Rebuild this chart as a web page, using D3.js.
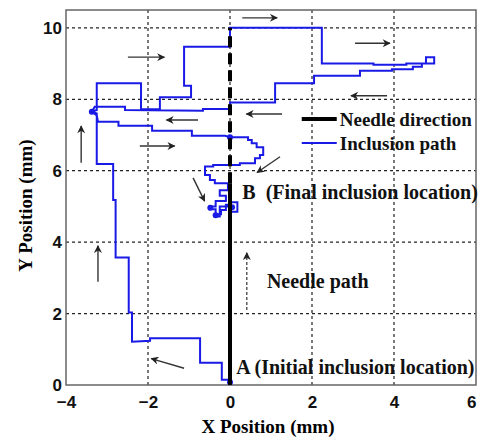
<!DOCTYPE html>
<html>
<head>
<meta charset="utf-8">
<script src="https://cdn.jsdelivr.net/npm/d3@7"></script>
<style>
  body { margin: 0; background: #fff; }
  svg { display: block; font-family: "Liberation Serif", "DejaVu Serif", serif; font-weight: bold; }
  .tick text { font-size: 17px; fill: #111; }
</style>
</head>
<body>
<svg width="479" height="437"></svg>
<script>
// ---- data ----
const xTicks = [-4, -2, 0, 2, 4, 6];
const yTicks = [0, 2, 4, 6, 8, 10];

// needle: solid part then dashed part (x, y pairs)
const needleSolid = [[0, 0], [0, 5.65]];
const needleDashed = [[0, 5.65], [0, 10]];

// inclusion path from A to B
const inclusionPath = [
  [0, 0.08], [0, 0.15], [-0.2, 0.15], [-0.2, 0.62], [-0.73, 0.62], [-0.73, 1.31],
  [-1.95, 1.31], [-1.95, 1.24], [-2.39, 1.21], [-2.39, 2.03], [-2.47, 2.03],
  [-2.47, 3.57], [-2.79, 3.57], [-2.79, 5.18], [-2.85, 5.18], [-2.85, 6.19],
  [-3.25, 6.19], [-3.25, 7.6], [-3.37, 7.65],
  [-3.25, 7.7], [-3.25, 8.45], [-2.17, 8.45], [-2.17, 7.72], [-1.71, 7.72],
  [-1.71, 8.06], [-0.95, 8.06], [-0.95, 8.38], [-1.12, 8.38], [-1.12, 9.47],
  [0, 9.47], [0, 10], [2.24, 10], [2.24, 9.0], [3.5, 9.0], [3.5, 8.97],
  [4.3, 8.97], [4.3, 9.0], [4.78, 9.0], [4.78, 9.18], [4.98, 9.18], [4.98, 9.0],
  [4.68, 9.0], [4.68, 8.91], [4.46, 8.91], [4.46, 8.84], [3.95, 8.84], [3.95, 8.8],
  [3.17, 8.8], [3.17, 8.66], [2.05, 8.66], [2.05, 8.45], [1.1, 8.45], [1.1, 7.91],
  [0, 7.91], [0, 7.73], [-0.66, 7.73], [-0.66, 7.68], [-2.56, 7.7], [-2.56, 7.79],
  [-3.3, 7.79], [-3.37, 7.65],
  [-3.25, 7.55], [-3.22, 7.37], [-2.72, 7.37], [-2.72, 7.26], [-1.9, 7.26],
  [-1.9, 7.12], [-0.93, 7.12], [-0.93, 6.98], [-0.12, 6.98], [0, 6.94],
  [0.44, 6.94], [0.44, 6.86], [0.53, 6.86], [0.53, 6.77], [0.65, 6.77],
  [0.65, 6.66], [0.81, 6.66], [0.81, 6.44], [0.73, 6.44], [0.73, 6.35],
  [0.61, 6.35], [0.61, 6.21], [0.24, 6.21], [0.24, 6.16], [-0.41, 6.16],
  [-0.41, 6.12], [-0.61, 6.12], [-0.61, 5.88], [-0.49, 5.88], [-0.49, 5.74],
  [-0.37, 5.74], [-0.37, 5.65], [-0.05, 5.65], [-0.05, 5.45], [-0.25, 5.45],
  [-0.25, 5.3], [-0.1, 5.3], [-0.1, 5.15], [-0.35, 5.15], [-0.35, 5.0],
  [-0.5, 5.0], [-0.5, 4.92], [-0.35, 4.92], [-0.35, 4.78], [-0.22, 4.78],
  [-0.22, 4.9], [-0.1, 4.9], [-0.1, 5.05], [0, 5.05], [0, 5.12], [0.18, 5.12],
  [0.18, 4.85], [0, 4.85], [0, 5.0], [-0.25, 5.0], [-0.25, 4.72], [-0.35, 4.72]
];
const pathDots = [[0, 0.08], [-3.37, 7.65], [0, 6.94], [-0.35, 4.75], [-0.48, 4.96], [0.05, 4.98]];

// direction arrows: [x1, y1, x2, y2]
const arrows = [
  [0.3, 10.28, 1.15, 10.28],
  [-2.49, 9.18, -1.6, 9.18],
  [3.05, 9.57, 3.9, 9.57],
  [3.83, 8.1, 2.95, 8.1],
  [1.27, 7.59, 0.4, 7.59],
  [-0.78, 7.42, -1.55, 7.42],
  [-2.2, 6.69, -1.35, 6.69],
  [-3.63, 6.22, -3.63, 7.25],
  [-3.22, 2.89, -3.22, 3.9],
  [-1.12, 0.47, -1.92, 0.74],
  [-0.9, 5.8, -0.62, 5.15],
  [1.22, 6.39, 0.66, 5.95]
];
const needleArrow = [0.41, 2.1, 0.41, 3.7];

const notes = [
  {text: "B\u00a0\u00a0(Final inclusion location)", x: 0.3, y: 5.2},
  {text: "A (Initial inclusion location)", x: 0.15, y: 0.3},
  {text: "Needle path", x: 0.9, y: 2.72}
];
const legendItems = [
  {label: "Needle direction", color: "#000", width: 4},
  {label: "Inclusion path", color: "#1a1ae6", width: 2}
];

// ---- layout ----
const svg = d3.select("svg");
const margin = {top: 10, right: 3, bottom: 52, left: 66};
const width = 479 - margin.left - margin.right;
const height = 437 - margin.top - margin.bottom;

const x = d3.scaleLinear().domain([-4, 6]).range([0, width]);
const y = d3.scaleLinear().domain([0, 10.5]).range([height, 0]);

const g = svg.append('g')
    .attr('transform', 'translate(' + margin.left + ',' + margin.top + ')');

svg.append('defs').append('marker')
    .attr('id', 'head')
    .attr('viewBox', '0 0 10 10')
    .attr('refX', 9).attr('refY', 5)
    .attr('markerWidth', 9).attr('markerHeight', 8)
    .attr('markerUnits', 'userSpaceOnUse')
    .attr('orient', 'auto')
  .append('path')
    .attr('d', 'M0,0 L10,5 L0,10 L3,5 Z')
    .attr('fill', '#222');

// grid
g.selectAll('.vgrid')
  .data(xTicks.slice(1, -1))
  .enter().append('line')
    .attr('x1', d => x(d)).attr('x2', d => x(d))
    .attr('y1', 0).attr('y2', height)
    .attr('stroke', '#222').attr('stroke-width', 1.2)
    .attr('stroke-dasharray', '3,3');

g.selectAll('.hgrid')
  .data(yTicks.slice(1))
  .enter().append('line')
    .attr('y1', d => y(d)).attr('y2', d => y(d))
    .attr('x1', 0).attr('x2', width)
    .attr('stroke', '#222').attr('stroke-width', 1.2)
    .attr('stroke-dasharray', '3,3');

// axes
const xAxis = g.append('g')
    .attr('transform', 'translate(0,' + height + ')')
    .call(d3.axisBottom(x).tickValues(xTicks).tickSize(0).tickPadding(11));
const yAxis = g.append('g')
    .call(d3.axisLeft(y).tickValues(yTicks).tickSize(0).tickPadding(4));
xAxis.select('.domain').remove();
yAxis.select('.domain').remove();
// last x label sits at the right edge; keep it inside the picture
xAxis.selectAll('.tick text')
    .filter(d => d === 6)
    .attr('text-anchor', 'end');

g.append('rect')
    .attr('width', width).attr('height', height)
    .attr('fill', 'none')
    .attr('stroke', '#666').attr('stroke-width', 1.5);

const line = d3.line().x(d => x(d[0])).y(d => y(d[1]));

// inclusion path
g.append('path')
    .attr('d', line(inclusionPath))
    .attr('fill', 'none')
    .attr('stroke', '#1a1ae6')
    .attr('stroke-width', 2);

g.selectAll('.dot')
  .data(pathDots)
  .enter().append('circle')
    .attr('cx', d => x(d[0])).attr('cy', d => y(d[1]))
    .attr('r', 3)
    .attr('fill', '#1a1ae6');

// needle
g.append('path')
    .attr('d', line(needleSolid))
    .attr('stroke', '#000').attr('stroke-width', 4);
g.append('path')
    .attr('d', line(needleDashed))
    .attr('stroke', '#000').attr('stroke-width', 4)
    .attr('stroke-dasharray', '11,6');

// arrows
g.selectAll('.arrow')
  .data(arrows)
  .enter().append('line')
    .attr('x1', d => x(d[0])).attr('y1', d => y(d[1]))
    .attr('x2', d => x(d[2])).attr('y2', d => y(d[3]))
    .attr('stroke', '#333').attr('stroke-width', 1.4)
    .attr('marker-end', 'url(#head)');

g.append('line')
    .attr('x1', x(needleArrow[0])).attr('y1', y(needleArrow[1]))
    .attr('x2', x(needleArrow[2])).attr('y2', y(needleArrow[3]))
    .attr('stroke', '#333').attr('stroke-width', 1.2)
    .attr('stroke-dasharray', '3,2')
    .attr('marker-end', 'url(#head)');

// notes
g.selectAll('.note')
  .data(notes)
  .enter().append('text')
    .attr('x', d => x(d.x)).attr('y', d => y(d.y))
    .attr('font-size', 20)
    .attr('fill', '#111')
    .text(d => d.text);

// legend
const legendG = g.append('g')
    .attr('transform', 'translate(' + (x(1.75)) + ',' + (y(7.45)) + ')');
legendG.selectAll('line')
  .data(legendItems)
  .enter().append('line')
    .attr('x1', 0).attr('x2', 35)
    .attr('y1', (d, i) => i * 24).attr('y2', (d, i) => i * 24)
    .attr('stroke', d => d.color)
    .attr('stroke-width', d => d.width);
legendG.selectAll('text')
  .data(legendItems)
  .enter().append('text')
    .attr('x', 38)
    .attr('y', (d, i) => i * 24)
    .attr('dy', '0.35em')
    .attr('font-size', 19)
    .attr('fill', '#111')
    .text(d => d.label);

// axis titles
svg.append('text')
    .attr('x', margin.left + width / 2 - 3)
    .attr('y', 433)
    .attr('text-anchor', 'middle')
    .attr('font-size', 19)
    .text('X Position (mm)');

svg.append('text')
    .attr('transform', 'translate(32,' + (margin.top + height / 2 + 8) + ') rotate(-90)')
    .attr('text-anchor', 'middle')
    .attr('font-size', 19)
    .text('Y Position (mm)');
</script>
</body>
</html>
